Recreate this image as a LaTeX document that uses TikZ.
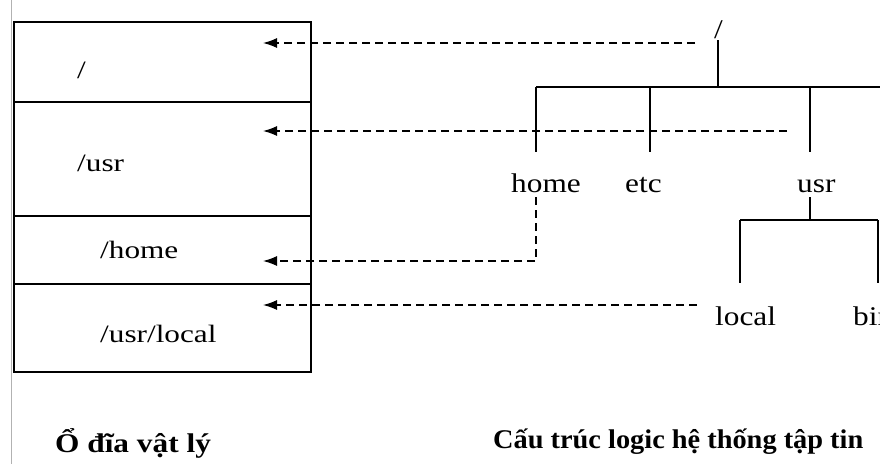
\documentclass[tikz,border=0pt]{standalone}
\usepackage{fontspec}
\setmainfont{Liberation Serif}
\usetikzlibrary{arrows.meta}
\begin{document}
\begin{tikzpicture}[x=1pt,y=-1pt,
  part/.style={draw, line width=1.6pt, minimum width=297pt, anchor=north west, inner sep=0pt},
  tree/.style={line width=1.4pt},
  dlink/.style={dash pattern=on 8pt off 5pt, line width=1.3pt, -{Latex[length=14pt,width=10pt]}},
  lbl/.style={font=\fontsize{25}{28}\selectfont\addfontfeature{FakeStretch=1.25}, inner sep=0pt, anchor=base west},
  tlbl/.style={font=\fontsize{27}{30}\selectfont\addfontfeature{FakeStretch=1.16}, inner sep=0pt, anchor=base west},
  ttl/.style={font=\bfseries\fontsize{27}{30}\selectfont, inner sep=0pt, anchor=base west}]
\useasboundingbox (0,0) rectangle (880,464);
\clip (0,0) rectangle (880,464);
\fill[white] (0,0) rectangle (880,464);
% faint left border
\draw[gray!60, line width=1pt] (11,0) -- (11,464);
% partitions
\node[part, minimum height=80pt] (p1) at (13,21) {};
\node[part, minimum height=114pt] (p2) at (13,101) {};
\node[part, minimum height=68pt] (p3) at (13,215) {};
\node[part, minimum height=88pt] (p4) at (13,283) {};
\node[lbl] (l1) at (77,78) {/};
\node[lbl] (l2) at (77,171) {/usr};
\node[lbl] (l3) at (100,258) {/home};
\node[lbl] (l4) at (100,342) {/usr/local};
% tree
\node[tlbl] (root) at (714,38) {/};
\node[tlbl] (home) at (511,192) {home};
\node[tlbl] (etc) at (625,192) {etc};
\node[tlbl] (usr) at (797,192) {usr};
\node[tlbl] (local) at (715,325) {local};
\node[tlbl] (bin) at (853,325) {bin};
\coordinate (r0) at (718,40);
\coordinate (r1) at (718,87);
\coordinate (bl) at (536,87);
\coordinate (br) at (880,87);
\coordinate (hT) at (536,152);
\coordinate (eB) at (650,87);
\coordinate (eT) at (650,152);
\coordinate (uB) at (810,87);
\coordinate (uT) at (810,152);
\coordinate (u0) at (810,197);
\coordinate (u1) at (810,220);
\coordinate (sl) at (740,220);
\coordinate (sr) at (878,220);
\coordinate (lT) at (740,283);
\coordinate (bT) at (878,283);
\draw[tree] (r0) -- (r1);
\draw[tree] (bl) -- (br);
\draw[tree] (bl) -- (hT);
\draw[tree] (eB) -- (eT);
\draw[tree] (uB) -- (uT);
\draw[tree] (u0) -- (u1);
\draw[tree] (sl) -- (sr);
\draw[tree] (sl) -- (lT);
\draw[tree] (sr) -- (bT);
% mapping arrows
\coordinate (a1s) at (695,43);
\coordinate (a1e) at (263,43);
\coordinate (a2s) at (787,131);
\coordinate (a2e) at (263,131);
\coordinate (a3s) at (536,197);
\coordinate (a3c) at (536,261);
\coordinate (a3e) at (263,261);
\coordinate (a4s) at (697,305);
\coordinate (a4e) at (263,305);
\draw[dlink] (a1s) -- (a1e);
\draw[dlink] (a2s) -- (a2e);
\draw[dlink] (a3s) -- (a3c) -- (a3e);
\draw[dlink] (a4s) -- (a4e);
% titles
\node[ttl, font=\bfseries\fontsize{27}{30}\selectfont\addfontfeature{FakeStretch=1.16}] (t1) at (55,452) {Ổ đĩa vật lý};
\node[ttl, font=\bfseries\fontsize{27}{30}\selectfont\addfontfeature{FakeStretch=1.05}] (t2) at (493,448) {Cấu trúc logic hệ thống tập tin};
\end{tikzpicture}
\end{document}
